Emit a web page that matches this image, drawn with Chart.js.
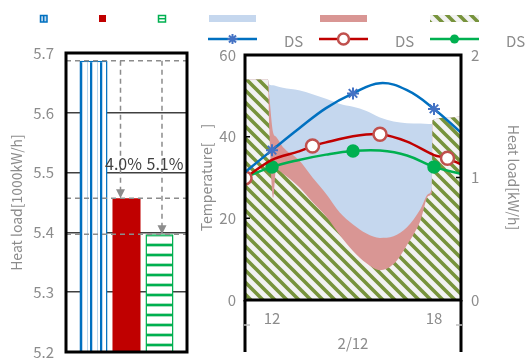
<!DOCTYPE html>
<html>
<head>
<meta charset="utf-8">
<script src="https://cdn.jsdelivr.net/npm/chart.js@4.4.1/dist/chart.umd.min.js"></script>
<style>
  html, body { margin: 0; padding: 0; background: #fff; }
  #wrap { position: relative; width: 526px; height: 358px; overflow: hidden; }
  canvas { position: absolute; }
  #legend { left: 0; top: 0; z-index: 2; }
  #barChart { left: 0; top: 40px; }
  #lineChart { left: 195px; top: 40px; }
</style>
</head>
<body>
<div id="wrap">
  <canvas id="barChart" width="195" height="318"></canvas>
  <canvas id="lineChart" width="331" height="318"></canvas>
  <canvas id="legend" width="526" height="50"></canvas>
</div>
<script>
// ── data ───────────────────────────────────────────────────────────────────
const loadCategories = [''];
const loadA = [5.687];
const loadB = [5.457];
const loadC = [5.397];
const loadTicks = [5.2, 5.3, 5.4, 5.5, 5.6, 5.7];

const hours = [11, 12, 13, 14, 15, 16, 17, 18, 19];
const tempBlue = [31.3, 36.7, 42.0, 47.0, 50.6, 53.1, 51.4, 46.8, 41.0];
const blueMarks = [12, 15, 18];
const tempGreen = [30.0, 32.6, 34.3, 35.6, 36.5, 36.6, 35.4, 32.6, 30.9];
const greenMarks = [12, 15, 18];
const redHours = [11, 12, 13, 13.5, 14, 15, 16, 17, 18, 18.5, 19];
const tempRed = [29.9, 34.3, 36.4, 37.7, 38.6, 40.1, 40.6, 38.8, 35.5, 34.7, 33.2];
const redMarks = [11, 13.5, 16, 18.5];

const areaHours = [11, 11.85, 11.9, 12.04, 12.15, 12.4, 13, 13.5, 14, 14.5, 15, 15.5, 16, 16.5, 17, 17.5, 17.8, 17.93, 17.95, 18.5, 19];
const blueTop  = [1.80, 1.80, 1.76, 1.753, 1.747, 1.733, 1.713, 1.68, 1.643, 1.603, 1.577, 1.543, 1.49, 1.457, 1.443, 1.44, 1.437, 1.437, 1.47, 1.487, 1.50];
const redTop   = [1.80, 1.80, 1.667, 1.367, 1.333, 1.25, 1.143, 1.0, 0.867, 0.717, 0.617, 0.543, 0.507, 0.52, 0.593, 0.743, 0.867, 0.933, 1.47, 1.487, 1.50];
const hatchTop = [1.80, 1.80, 1.40, 0.833, 1.067, 1.033, 0.923, 0.80, 0.683, 0.533, 0.40, 0.30, 0.243, 0.293, 0.45, 0.65, 0.85, 0.883, 1.47, 1.487, 1.50];

const timeTicks = [12, 18];
const tempTicks = [0, 20, 40, 60];
const loadKwTicks = [0, 1, 2];

// ── colours / patterns ─────────────────────────────────────────────────────
const GRAY = '#8c8c8c';
const FONT = "'Noto Sans CJK JP', 'Noto Sans', sans-serif";
Chart.defaults.font.family = FONT;
Chart.defaults.color = GRAY;

function tile(w, h, paint) {
  const c = document.createElement('canvas');
  c.width = w; c.height = h;
  const g = c.getContext('2d');
  paint(g);
  return g.createPattern(c, 'repeat');
}

const hatchFill = tile(12, 12, g => {
  g.fillStyle = '#f2f2f2'; g.fillRect(0, 0, 12, 12);
  g.strokeStyle = '#77933c'; g.lineWidth = 3.6;
  g.beginPath();
  g.moveTo(-3, -3); g.lineTo(15, 15);
  g.moveTo(8, -4); g.lineTo(16, 4);
  g.moveTo(-4, 8); g.lineTo(4, 16);
  g.stroke();
});
const vStripe = tile(10, 10, g => {
  g.fillStyle = '#fff'; g.fillRect(0, 0, 10, 10);
  g.fillStyle = '#bdd7ee'; g.fillRect(2, 0, 6, 10);
  g.fillStyle = '#fff'; g.fillRect(3, 0, 4, 10);
  g.fillStyle = '#0070c0'; g.fillRect(0, 0, 2, 10);
});
const hStripe = tile(10, 10, g => {
  g.fillStyle = '#fff'; g.fillRect(0, 0, 10, 10);
  g.fillStyle = '#a8e0bf'; g.fillRect(0, 3, 10, 4);
  g.fillStyle = '#00b050'; g.fillRect(0, 4, 10, 2);
});

const xy = (xs, ys) => xs.map((x, i) => ({ x, y: ys[i] }));
const markAt = (xs, marks, r) => xs.map(x => marks.includes(x) ? r : 0);
// fixed axis box sizes, no extra label padding
const fixW = w => s => { s.width = w; s.paddingTop = 0; s.paddingBottom = 0; };
const fixH = h => s => { s.height = h; s.paddingLeft = 0; s.paddingRight = 0; };

// ── plugins ────────────────────────────────────────────────────────────────
const frame = {
  id: 'frame',
  afterDraw(chart, args, opts) {
    const { ctx, chartArea: a } = chart;
    ctx.save();
    ctx.strokeStyle = '#000';
    ctx.lineWidth = 3;
    ctx.strokeRect(a.left, a.top, a.right - a.left, a.bottom - a.top);
    if (opts.legs) {
      ctx.beginPath();
      ctx.moveTo(a.left, a.bottom); ctx.lineTo(a.left, a.bottom + opts.legs);
      ctx.moveTo(a.right, a.bottom); ctx.lineTo(a.right, a.bottom + opts.legs);
      ctx.stroke();
      // inner ticks
      ctx.lineWidth = 1.5;
      ctx.beginPath();
      chart.scales.y.ticks.forEach(t => {
        const y = chart.scales.y.getPixelForValue(t.value);
        ctx.moveTo(a.left, y); ctx.lineTo(a.left + 5, y);
      });
      chart.scales.y1.ticks.forEach(t => {
        const y = chart.scales.y1.getPixelForValue(t.value);
        ctx.moveTo(a.right, y); ctx.lineTo(a.right - 5, y);
      });
      ctx.stroke();
      ctx.strokeStyle = '#bfbfbf';
      ctx.beginPath();
      ctx.moveTo(a.left - 1, a.bottom + 25); ctx.lineTo(a.left + 5, a.bottom + 25);
      ctx.moveTo(a.right - 5, a.bottom + 25); ctx.lineTo(a.right + 1, a.bottom + 25);
      ctx.stroke();
    }
    ctx.restore();
  }
};

const reduction = {
  id: 'reduction',
  afterDatasetsDraw(chart) {
    const { ctx, chartArea: a, scales: { y } } = chart;
    const yA = y.getPixelForValue(loadA[0]);
    const bars = [1, 2].map(i => chart.getDatasetMeta(i).data[0]);
    const vals = [loadB[0], loadC[0]];
    const shift = [-6, 2.5];
    ctx.save();
    ctx.strokeStyle = '#8c8c8c';
    ctx.fillStyle = '#8c8c8c';
    ctx.lineWidth = 1.5;
    ctx.setLineDash([5, 4]);
    ctx.beginPath();
    [loadA[0], loadB[0], loadC[0]].forEach(v => {
      const py = y.getPixelForValue(v);
      ctx.moveTo(a.left, py); ctx.lineTo(a.right, py);
    });
    bars.forEach((b, i) => {
      const x = b.x + shift[i];
      ctx.moveTo(x, yA); ctx.lineTo(x, y.getPixelForValue(vals[i]) - 8);
    });
    ctx.stroke();
    ctx.setLineDash([]);
    bars.forEach((b, i) => {
      const x = b.x + shift[i], py = y.getPixelForValue(vals[i]);
      ctx.beginPath();
      ctx.moveTo(x - 4.5, py - 9); ctx.lineTo(x + 4.5, py - 9); ctx.lineTo(x, py);
      ctx.closePath(); ctx.fill();
    });
    ctx.fillStyle = '#404040';
    ctx.font = '16px ' + FONT;
    ctx.textAlign = 'center';
    ctx.textBaseline = 'alphabetic';
    const yB = y.getPixelForValue(loadB[0]);
    bars.forEach((b, i) => {
      const pct = ((loadA[0] - vals[i]) / loadA[0] * 100).toFixed(1) + '%';
      ctx.fillText(pct, b.x + shift[i] + 3, yB - 28);
    });
    ctx.restore();
  }
};

// ── left: bar chart ────────────────────────────────────────────────────────
new Chart(document.getElementById('barChart'), {
  type: 'bar',
  data: {
    labels: loadCategories,
    datasets: [
      { data: loadA, backgroundColor: vStripe, borderColor: '#0070c0', borderWidth: 1.5 },
      { data: loadB, backgroundColor: '#c00000', borderWidth: 0 },
      { data: loadC, backgroundColor: hStripe, borderColor: '#00b050', borderWidth: 1.5 },
    ],
  },
  options: {
    responsive: false,
    animation: false,
    categoryPercentage: 0.818,
    barPercentage: 0.85,
    layout: { padding: { top: 13, right: 8, left: 0, bottom: 0 } },
    plugins: { legend: { display: false }, tooltip: { enabled: false }, frame: {} },
    scales: {
      x: {
        grid: { display: false, drawTicks: false },
        border: { display: false },
        ticks: { display: false },
        afterFit: fixH(6),
      },
      y: {
        min: loadTicks[0], max: loadTicks[loadTicks.length - 1],
        afterBuildTicks: s => { s.ticks = loadTicks.map(v => ({ value: v })); },
        ticks: { callback: v => v.toFixed(1), padding: 12, font: { size: 15 }, color: GRAY },
        grid: { color: '#404040', lineWidth: 1.5, drawTicks: false },
        border: { display: false },
        title: { display: true, text: 'Heat load[1000kW/h]', font: { size: 14 }, color: GRAY, padding: { top: 8, bottom: 0 } },
        afterFit: fixW(66),
      },
    },
  },
  plugins: [reduction, frame],
});

// ── right: temperature / heat load ─────────────────────────────────────────
const areaBase = { type: 'line', borderWidth: 0, pointRadius: 0, fill: 'origin', yAxisID: 'y1', cubicInterpolationMode: 'monotone' };

new Chart(document.getElementById('lineChart'), {
  type: 'line',
  data: {
    datasets: [
      {
        data: xy(hours, tempBlue), borderColor: '#0070c0', borderWidth: 2.5, tension: 0.4,
        pointStyle: 'star', pointRadius: markAt(hours, blueMarks, 6), pointBorderColor: '#4472c4',
        pointBorderWidth: 2, order: 1,
      },
      {
        data: xy(redHours, tempRed), borderColor: '#c00000', borderWidth: 2.5, tension: 0.3,
        pointRadius: markAt(redHours, redMarks, 6.5), pointBackgroundColor: '#fff', pointBorderColor: '#c0504d',
        pointBorderWidth: 2.5, order: 2,
      },
      {
        data: xy(hours, tempGreen), borderColor: '#00b050', borderWidth: 2.5, tension: 0.4,
        pointRadius: markAt(hours, greenMarks, 5.5), pointBackgroundColor: '#00b050', pointBorderColor: '#00b050',
        order: 3,
      },
      { ...areaBase, data: xy(areaHours, hatchTop), backgroundColor: hatchFill, order: 8 },
      { ...areaBase, data: xy(areaHours, redTop), backgroundColor: '#d99694', order: 9 },
      { ...areaBase, data: xy(areaHours, blueTop), backgroundColor: '#c5d7ee', order: 10 },
    ],
  },
  options: {
    responsive: false,
    animation: false,
    layout: { padding: { top: 15, right: 0, left: 0, bottom: 0 } },
    plugins: { legend: { display: false }, tooltip: { enabled: false }, frame: { legs: 52 } },
    scales: {
      x: {
        type: 'linear', min: hours[0], max: hours[hours.length - 1],
        afterBuildTicks: s => { s.ticks = timeTicks.map(v => ({ value: v })); },
        ticks: { padding: 9, font: { size: 15 }, color: GRAY },
        grid: { display: false, drawTicks: false },
        border: { display: false },
        title: { display: true, text: '2/12', font: { size: 15 }, color: GRAY, padding: { top: 4, bottom: 6 } },
        afterFit: fixH(58),
      },
      y: {
        min: 0, max: 60,
        afterBuildTicks: s => { s.ticks = tempTicks.map(v => ({ value: v })); },
        ticks: { padding: 9, font: { size: 15 }, color: GRAY },
        grid: { display: false, drawTicks: false },
        border: { display: false },
        title: { display: true, text: 'Temperature[\u3000]', font: { size: 14 }, color: GRAY, padding: { top: 3, bottom: 0 } },
        afterFit: fixW(50),
      },
      y1: {
        position: 'right', min: 0, max: 2,
        afterBuildTicks: s => { s.ticks = loadKwTicks.map(v => ({ value: v })); },
        ticks: { padding: 10, font: { size: 15 }, color: GRAY },
        grid: { display: false, drawTicks: false },
        border: { display: false },
        title: { display: true, text: 'Heat load[kW/h]', font: { size: 14 }, color: GRAY, padding: { top: 4, bottom: 0 } },
        afterFit: fixW(65),
      },
    },
  },
  plugins: [frame],
});

// ── legend ─────────────────────────────────────────────────────────────────
(function drawLegend() {
  const g = document.getElementById('legend').getContext('2d');
  // bar swatches
  g.lineWidth = 1.5;
  g.strokeStyle = '#0070c0'; g.fillStyle = '#bdd7ee';
  g.fillRect(40, 15, 7, 7); g.strokeRect(40.5, 15.5, 6.5, 6.5);
  g.beginPath(); g.moveTo(43.7, 15); g.lineTo(43.7, 22); g.stroke();
  g.fillStyle = '#c00000'; g.fillRect(99, 15, 7, 7);
  g.strokeStyle = '#00b050'; g.fillStyle = '#fff';
  g.strokeRect(158.5, 15.5, 7, 6.5);
  g.beginPath(); g.moveTo(158, 18.7); g.lineTo(166, 18.7); g.stroke();
  // area swatches
  g.fillStyle = '#c5d7ee'; g.fillRect(209, 15, 47, 7);
  g.fillStyle = '#d99694'; g.fillRect(320, 15, 47, 7);
  g.fillStyle = hatchFill; g.fillRect(430, 15, 49, 7);
  // line swatches
  const lines = [
    { x: 208, c: '#0070c0', m: 'star' },
    { x: 319, c: '#c00000', m: 'ring' },
    { x: 430, c: '#00b050', m: 'dot' },
  ];
  g.font = '15px ' + FONT;
  g.textBaseline = 'middle';
  lines.forEach(l => {
    const y = 39, cx = l.x + 24.5;
    g.strokeStyle = l.c; g.lineWidth = 2.5;
    g.beginPath(); g.moveTo(l.x, y); g.lineTo(l.x + 49, y); g.stroke();
    if (l.m === 'star') {
      g.strokeStyle = '#4472c4'; g.lineWidth = 2;
      g.beginPath();
      g.moveTo(cx - 5, y); g.lineTo(cx + 5, y);
      g.moveTo(cx, y - 5); g.lineTo(cx, y + 5);
      g.moveTo(cx - 3.5, y - 3.5); g.lineTo(cx + 3.5, y + 3.5);
      g.moveTo(cx - 3.5, y + 3.5); g.lineTo(cx + 3.5, y - 3.5);
      g.stroke();
    } else if (l.m === 'ring') {
      g.fillStyle = '#fff'; g.strokeStyle = '#c0504d'; g.lineWidth = 2.5;
      g.beginPath(); g.arc(cx, y, 5.5, 0, Math.PI * 2); g.fill(); g.stroke();
    } else {
      g.fillStyle = l.c;
      g.beginPath(); g.arc(cx, y, 4.5, 0, Math.PI * 2); g.fill();
    }
    g.fillStyle = GRAY;
    g.fillText('DS', l.x + 76, 41);
  });
})();
</script>
</body>
</html>
